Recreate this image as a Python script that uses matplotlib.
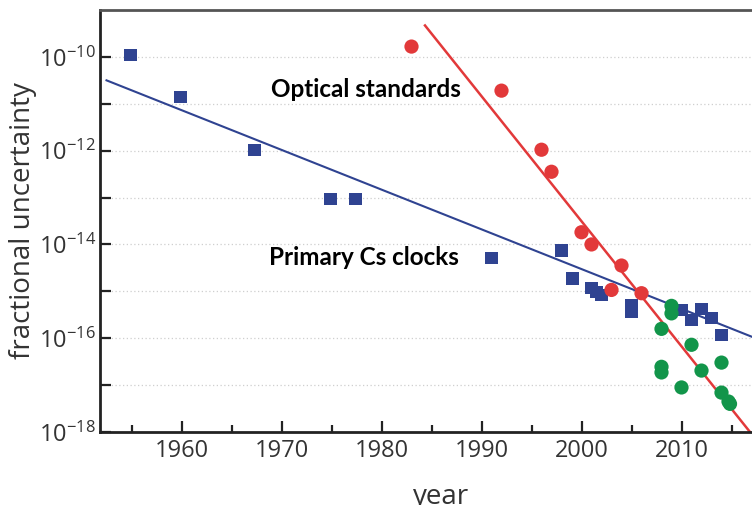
import numpy as np
import matplotlib
matplotlib.use("Agg")
import matplotlib.pyplot as plt
from matplotlib.ticker import FixedLocator, FuncFormatter

plt.rcParams['font.family'] = ['Open Sans', 'DejaVu Sans']
plt.rcParams['mathtext.fontset'] = 'custom'
plt.rcParams['mathtext.rm'] = 'Open Sans'
plt.rcParams['mathtext.it'] = 'Open Sans'

# Primary Cs clocks (blue squares): year, log10 uncertainty
cs_years = [1954.9, 1959.9, 1967.3, 1974.9, 1977.4, 1991.0, 1998.0, 1999.1,
            2001.0, 2001.5, 2002.0, 2005.0, 2005.0, 2010.0, 2011.0, 2012.0,
            2013.0, 2014.0]
cs_log = [-9.96, -10.86, -11.98, -13.03, -13.03, -14.29, -14.13, -14.73,
          -14.93, -15.01, -15.08, -15.29, -15.43, -15.40, -15.61, -15.38,
          -15.57, -15.93]

# Optical standards (red circles)
opt_years = [1983.0, 1992.0, 1996.0, 1997.0, 2000.0, 2001.0, 2004.0, 2003.0, 2006.0]
opt_log = [-9.78, -10.72, -11.98, -12.45, -13.74, -14.00, -14.45, -14.97, -15.04]

# Recent optical clocks (green circles)
grn_years = [2009.0, 2009.0, 2008.0, 2011.0, 2008.0, 2008.0, 2012.0, 2014.0,
             2010.0, 2014.0, 2014.7, 2014.85]
grn_log = [-15.31, -15.47, -15.80, -16.14, -16.61, -16.73, -16.69, -16.52,
           -17.05, -17.16, -17.35, -17.40]

# Fit lines: endpoints (year, log10)
cs_fit_years = [1952.5, 2017.05]
cs_fit_log = [-10.50, -15.97]
opt_fit_years = [1984.35, 2016.85]
opt_fit_log = [-9.33, -18.0]

x_ticks = [1960, 1970, 1980, 1990, 2000, 2010]
y_major = [-18, -16, -14, -12, -10]

BLUE = '#2f4391'
RED = '#e2393a'
GREEN = '#12954a'

fig = plt.figure(figsize=(7.52, 5.05), dpi=100)
ax = fig.add_axes([100/752, (505-432)/505, 652/752, (432-10)/505])

ax.set_yscale('log')
ax.set_xlim(1951.85, 2017.05)
ax.set_ylim(1e-18, 1e-9)

ax.plot(cs_fit_years, 10.0**np.array(cs_fit_log), color=BLUE, lw=1.5, zorder=2)
ax.plot(opt_fit_years, 10.0**np.array(opt_fit_log), color=RED, lw=1.8, zorder=2)

ax.scatter(cs_years, 10.0**np.array(cs_log), marker='s', s=80, color=BLUE,
           edgecolors='none', zorder=3)
ax.scatter(opt_years, 10.0**np.array(opt_log), marker='o', s=105, color=RED,
           edgecolors='none', zorder=3)
ax.scatter(grn_years, 10.0**np.array(grn_log), marker='o', s=105, color=GREEN,
           edgecolors='none', zorder=3)

# grid lines at every decade
for e in range(-17, -9):
    ax.axhline(10.0**e, color='#cfcfcf', lw=0.9, ls=(0, (1, 2)), zorder=1)

ax.yaxis.set_major_locator(FixedLocator([10.0**e for e in y_major]))
ax.yaxis.set_minor_locator(FixedLocator([10.0**e for e in range(-17, -9, 2)]))
ax.yaxis.set_major_formatter(FuncFormatter(
    lambda v, p: r'$\mathregular{10^{%d}}$' % int(round(np.log10(v)))))
ax.yaxis.set_minor_formatter(FuncFormatter(lambda v, p: ''))

ax.xaxis.set_major_locator(FixedLocator(x_ticks))
ax.xaxis.set_minor_locator(FixedLocator([1955, 1965, 1975, 1985, 1995, 2005, 2015]))

ax.tick_params(axis='both', which='major', direction='in', length=8, width=1.6,
               colors='#222222', labelsize=17, labelcolor='#333333')
ax.tick_params(axis='y', which='minor', direction='in', length=8, width=1.6,
               colors='#222222')
ax.tick_params(axis='x', which='minor', direction='in', length=5, width=1.6,
               colors='#222222')
ax.tick_params(axis='x', which='major', pad=5)
ax.tick_params(axis='y', which='major', pad=3)

for s in ['left', 'bottom']:
    ax.spines[s].set_linewidth(2)
    ax.spines[s].set_color('#222222')
ax.spines['top'].set_linewidth(2)
ax.spines['top'].set_color('#555555')
ax.spines['right'].set_visible(False)

ax.set_ylabel('fractional uncertainty', fontsize=20, color='#333333')
ax.yaxis.set_label_coords(-0.097, 0.5)
fig.text(441/752, 1/505, 'year', fontsize=20, color='#333333',
         ha='center', va='baseline')

ax.text(1978.45, 10.0**-10.7, 'Optical standards', fontsize=17.5, fontweight='bold',
        family=['Lato', 'DejaVu Sans'], ha='center', va='center', color='black')
ax.text(1978.25, 10.0**-14.27, 'Primary Cs clocks', fontsize=17.5, fontweight='bold',
        family=['Lato', 'DejaVu Sans'], ha='center', va='center', color='black')

fig.savefig('out.png', dpi=100)
